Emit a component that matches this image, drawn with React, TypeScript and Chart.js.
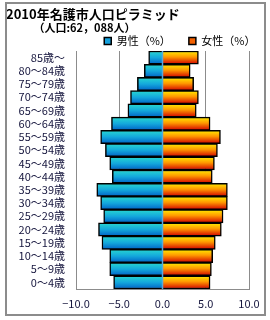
import React, { useEffect, useRef } from "react";
import { Chart, registerables } from "chart.js";

Chart.register(...registerables);

const ageGroups = ["85歳～", "80～84歳", "75～79歳", "70～74歳", "65～69歳", "60～64歳", "55～59歳", "50～54歳", "45～49歳", "40～44歳", "35～39歳", "30～34歳", "25～29歳", "20～24歳", "15～19歳", "10～14歳", "5～9歳", "0～4歳"];
const malePct = [1.6, 2.1, 2.9, 3.7, 4.0, 5.9, 7.15, 6.6, 6.1, 5.8, 7.6, 7.15, 6.8, 7.4, 7.0, 6.1, 6.1, 5.65];
const femalePct = [4.15, 3.2, 3.6, 4.15, 3.9, 5.5, 6.7, 6.35, 6.0, 5.75, 7.5, 7.5, 7.0, 6.8, 6.1, 5.8, 5.65, 5.5];
const titleText = "2010年名護市人口ピラミッド";
const subtitleText = "　　　（人口:62，088人）";
const maleLabel = "男性（%）";
const femaleLabel = "女性（%）";

const FONT = "'Noto Sans CJK JP', 'Noto Sans', sans-serif";

const maleStops: [number, string][] = [[0, "#28d8d0"], [0.5, "#14a8dc"], [1, "#0062c6"]];
const femaleStops: [number, string][] = [[0, "#ffee00"], [0.45, "#ff9800"], [1, "#d00000"]];

const gradientBars = {
  id: "gradientBars",
  beforeDatasetsDraw(chart: any) {
    const ctx = chart.ctx;
    chart.data.datasets.forEach((_ds: any, di: number) => {
      const stops = di === 0 ? maleStops : femaleStops;
      const meta = chart.getDatasetMeta(di);
      meta.data.forEach((el: any) => {
        const { y, height } = el.getProps(["y", "height"], true);
        const g = ctx.createLinearGradient(0, y - height / 2, 0, y + height / 2);
        stops.forEach(([o, c]) => g.addColorStop(o, c));
        el.options = Object.assign({}, el.options, { backgroundColor: g });
      });
    });
  },
  afterDatasetsDraw(chart: any) {
    const x = chart.scales.x.getPixelForValue(0);
    const { top, bottom } = chart.chartArea;
    const ctx = chart.ctx;
    ctx.save();
    ctx.strokeStyle = "#5aa8d8";
    ctx.lineWidth = 1.5;
    ctx.beginPath();
    ctx.moveTo(x, top);
    ctx.lineTo(x, bottom);
    ctx.stroke();
    ctx.restore();
  },
  afterLayout(chart: any) {
    const lg = chart.legend;
    if (!lg) return;
    lg.left += 13.5;
    lg.right += 13.5;
    lg.top += 5.5;
    lg.bottom += 5.5;
  },
};

export default function App() {
  const ref = useRef<HTMLCanvasElement>(null);
  useEffect(() => {
    document.body.style.margin = "0";
    const chart = new Chart(ref.current!, {
      type: "bar",
      data: {
        labels: ageGroups,
        datasets: [
          {
            label: maleLabel,
            data: malePct.map((v) => -v),
            backgroundColor: "#14a0dc",
            borderColor: "#000",
            borderWidth: 1.5,
          },
          {
            label: femaleLabel,
            data: femalePct,
            backgroundColor: "#f26000",
            borderColor: "#000",
            borderWidth: 1.5,
          },
        ],
      },
      options: {
        indexAxis: "y",
        responsive: false,
        animation: false,
        layout: { padding: { left: 6, right: 10, top: 0, bottom: 1.8 } },
        datasets: { bar: { categoryPercentage: 1, barPercentage: 1 } },
        plugins: {
          tooltip: { enabled: false },
          title: {
            display: true,
            text: titleText,
            align: "start",
            color: "#000",
            font: { family: FONT, size: 13, weight: "bold" },
            padding: { top: 6, bottom: -9.6 },
          },
          subtitle: {
            display: true,
            text: subtitleText,
            align: "start",
            color: "#000",
            font: { family: FONT, size: 11, weight: "bold" },
            padding: { top: 9, bottom: -22.2 },
          },
          legend: {
            display: true,
            position: "top",
            align: "end",
            labels: {
              color: "#000",
              boxWidth: 7,
              boxHeight: 7,
              padding: 18,
              font: { family: FONT, size: 11 },
            },
          },
        },
        scales: {
          x: {
            stacked: true,
            min: -10,
            max: 10,
            afterFit: (s: any) => {
              s.paddingRight = 21;
            },
            ticks: {
              stepSize: 5,
              color: "#14143c",
              padding: 8,
              font: { family: FONT, size: 11 },
              callback: (v: any) => Number(v).toFixed(1).replace("-", "−"),
            },
            grid: { color: "#8c8c8c", drawTicks: false, lineWidth: 1 },
            border: { display: true, color: "#8c8c8c", width: 1 },
          },
          y: {
            stacked: true,
            afterFit: (s: any) => {
              s.width = 70;
            },
            ticks: {
              autoSkip: false,
              color: "#14143c",
              padding: 11,
              font: { family: FONT, size: 11 },
            },
            grid: { display: false, drawTicks: false },
            border: { display: true, color: "#8c8c8c", width: 1 },
          },
        },
      },
      plugins: [gradientBars],
    });
    return () => chart.destroy();
  }, []);
  return (
    <div style={{ position: "relative", width: 270, height: 320 }}>
      <canvas ref={ref} width={270} height={320} />
      <div
        style={{
          position: "absolute",
          left: 5,
          top: 2,
          width: 261,
          height: 314,
          boxSizing: "border-box",
          border: "2px solid #8c8c8c",
          pointerEvents: "none",
        }}
      />
    </div>
  );
}
